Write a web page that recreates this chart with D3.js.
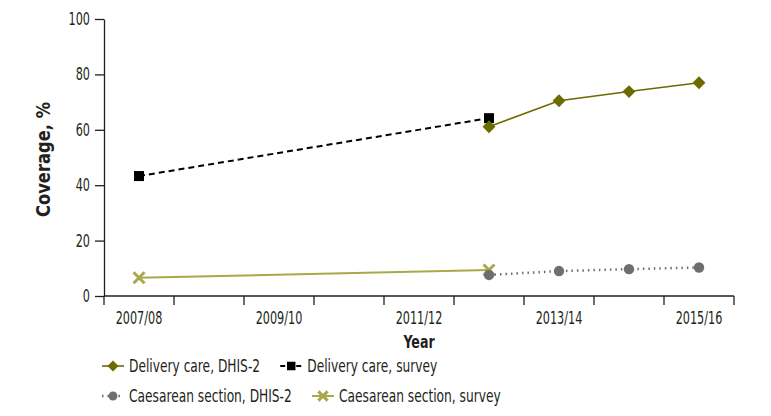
<!DOCTYPE html>
<html>
<head>
<meta charset="utf-8">
<script src="https://cdn.jsdelivr.net/npm/d3@7"></script>
<style>
  body { margin: 0; background: #fff; }
  svg text { font-family: "DejaVu Sans", sans-serif; fill: #231f20; }
</style>
</head>
<body>
<svg id="chart" width="771" height="416"></svg>
<script>
// 年度 (x 軸類別)
const years = ["2007/08", "2008/09", "2009/10", "2010/11", "2011/12", "2012/13", "2013/14", "2014/15", "2015/16"];
const yearLabels = ["2007/08", "2009/10", "2011/12", "2013/14", "2015/16"];
const yTicks = [0, 20, 40, 60, 80, 100];

// 各系列資料
const deliveryDhisYears = ["2012/13", "2013/14", "2014/15", "2015/16"];
const deliveryDhis = [61.1, 70.5, 73.8, 77.0];
const deliverySurveyYears = ["2007/08", "2012/13"];
const deliverySurvey = [43.3, 64.2];
const caesarDhisYears = ["2012/13", "2013/14", "2014/15", "2015/16"];
const caesarDhis = [7.6, 9.0, 9.7, 10.3];
const caesarSurveyYears = ["2007/08", "2012/13"];
const caesarSurvey = [6.6, 9.4];

const svg = d3.select("#chart");
const mLeft = 104, mRight = 734, mTop = 19, mBottom = 296;

const x = d3.scalePoint().domain(years).range([mLeft, mRight]).padding(0.5);
const y = d3.scaleLinear().domain([0, 100]).range([mBottom, mTop]);
const step = x.step();

// 沒有窄體字型，用水平縮放把字壓窄
function squeeze(sel, k) {
    sel.each(function () {
        const t = d3.select(this);
        const tx = +t.attr("x") || 0, ty = +t.attr("y") || 0;
        const base = t.attr("transform") || "";
        t.attr("x", null).attr("y", null)
            .attr("transform", `${base} translate(${tx},${ty}) scale(${k},1)`);
    });
}

// y 軸
const yAxis = svg.append("g")
    .attr("transform", `translate(${mLeft},0)`)
    .call(d3.axisLeft(y).tickValues(yTicks).tickSize(9).tickSizeOuter(0).tickPadding(5));
yAxis.selectAll("path, line").attr("stroke", "#231f20").attr("stroke-width", 1.3);
yAxis.selectAll("text").attr("font-size", 17).call(squeeze, 0.66);

// x 軸線與刻度
svg.append("line")
    .attr("x1", mLeft).attr("x2", mRight)
    .attr("y1", mBottom).attr("y2", mBottom)
    .attr("stroke", "#231f20").attr("stroke-width", 1.3);
const bounds = years.map(d => x(d) - step / 2).concat([x(years[years.length - 1]) + step / 2]);
svg.append("g").selectAll("line").data(bounds).join("line")
    .attr("x1", d => d).attr("x2", d => d)
    .attr("y1", mBottom).attr("y2", mBottom + 9)
    .attr("stroke", "#231f20").attr("stroke-width", 1.3);
svg.append("g").selectAll("text").data(yearLabels).join("text")
    .attr("x", d => x(d)).attr("y", mBottom + 28)
    .attr("text-anchor", "middle").attr("font-size", 17)
    .text(d => d)
    .call(squeeze, 0.66);

// 軸標題
svg.append("text")
    .attr("transform", `translate(50,${(mTop + mBottom) / 2 + 2}) rotate(-90)`)
    .attr("text-anchor", "middle").attr("font-size", 19).attr("font-weight", "bold")
    .text("Coverage, %")
    .call(squeeze, 0.86);
svg.append("text")
    .attr("x", (mLeft + mRight) / 2).attr("y", mBottom + 52)
    .attr("text-anchor", "middle").attr("font-size", 18).attr("font-weight", "bold")
    .text("Year")
    .call(squeeze, 0.7);

const line = d3.line().x(d => x(d[0])).y(d => y(d[1]));
const olive = "#6b6b00", lightOlive = "#a9a94a", grey = "#6d6e70";

// 繪製標記
function drawMarker(g, type, cx, cy, s) {
    s = s || 1;
    if (type === "diamond") {
        g.append("path").attr("d", d3.symbol(d3.symbolDiamond2, 105 * s * s)())
            .attr("transform", `translate(${cx},${cy})`)
            .attr("fill", olive);
    } else if (type === "square") {
        const h = 5 * s;
        g.append("rect").attr("x", cx - h).attr("y", cy - h).attr("width", 2 * h).attr("height", 2 * h).attr("fill", "#000");
    } else if (type === "circle") {
        g.append("circle").attr("cx", cx).attr("cy", cy).attr("r", 5.2 * s).attr("fill", grey);
    } else if (type === "x") {
        g.append("path").attr("d", d3.symbol(d3.symbolX, 80 * s * s)())
            .attr("transform", `translate(${cx},${cy})`)
            .attr("stroke", lightOlive).attr("stroke-width", 3).attr("fill", "none");
    }
}

const series = [
    { name: "Caesarean section, survey", yrs: caesarSurveyYears, vals: caesarSurvey, color: lightOlive, width: 2, dash: null, marker: "x" },
    { name: "Caesarean section, DHIS-2", yrs: caesarDhisYears, vals: caesarDhis, color: grey, width: 2.5, dash: "1.5,4", marker: "circle" },
    { name: "Delivery care, survey", yrs: deliverySurveyYears, vals: deliverySurvey, color: "#000", width: 2, dash: "6,4", marker: "square" },
    { name: "Delivery care, DHIS-2", yrs: deliveryDhisYears, vals: deliveryDhis, color: olive, width: 1.6, dash: null, marker: "diamond" }
];

series.forEach(s => {
    const pts = s.yrs.map((yr, i) => [yr, s.vals[i]]);
    svg.append("path").datum(pts)
        .attr("d", line).attr("fill", "none")
        .attr("stroke", s.color).attr("stroke-width", s.width)
        .attr("stroke-dasharray", s.dash);
    const g = svg.append("g");
    pts.forEach(p => drawMarker(g, s.marker, x(p[0]), y(p[1])));
});

// 圖例 (兩列, 每列兩項)
const legendK = 0.72;
const legendRows = [[series[3], series[2]], [series[1], series[0]]];
legendRows.forEach((row, r) => {
    const ly = 366 + r * 30;
    let lx = 102;
    row.forEach(s => {
        const g = svg.append("g");
        g.append("line")
            .attr("x1", lx).attr("x2", lx + 22)
            .attr("y1", ly).attr("y2", ly)
            .attr("stroke", s.color).attr("stroke-width", s.width)
            .attr("stroke-dasharray", s.dash ? (s.marker === "square" ? "5,3" : "1.5,4") : null);
        drawMarker(g, s.marker, lx + 11, ly, 0.85);
        const t = g.append("text")
            .attr("x", lx + 27).attr("y", ly + 6)
            .attr("font-size", 17)
            .text(s.name);
        const w = t.node().getComputedTextLength() * legendK;
        t.call(squeeze, legendK);
        lx = lx + 27 + w + 20;
    });
});
</script>
</body>
</html>
